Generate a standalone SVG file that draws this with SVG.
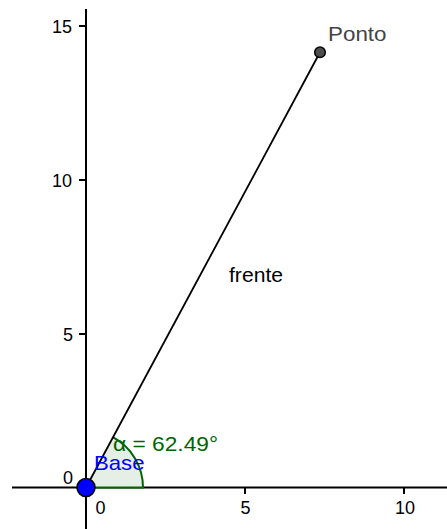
<svg xmlns="http://www.w3.org/2000/svg" width="447" height="529" viewBox="0 0 447 529">
<style>
.axis{stroke:#000;stroke-width:2;fill:none}
.tick{stroke:#000;stroke-width:2}
.tl{font-family:"Liberation Sans",Arial,sans-serif;font-size:18px;fill:#000}
.lbl{font-family:"Liberation Sans",Arial,sans-serif;font-size:21px}
</style>
<rect width="447" height="529" fill="#fff"/>
<g id="axes">
<line class="axis" x1="12" y1="487.5" x2="447" y2="487.5"/>
<line class="axis" x1="86" y1="9" x2="86" y2="529"/>
<line class="tick" x1="245" y1="487.5" x2="245" y2="494"/>
<line class="tick" x1="404" y1="487.5" x2="404" y2="494"/>
<line class="tick" x1="79" y1="26" x2="86" y2="26"/>
<line class="tick" x1="79" y1="180" x2="86" y2="180"/>
<line class="tick" x1="79" y1="334" x2="86" y2="334"/>
<text class="tl" x="72" y="32.5" text-anchor="end">15</text>
<text class="tl" x="72" y="186.5" text-anchor="end">10</text>
<text class="tl" x="73" y="340.5" text-anchor="end">5</text>
<text class="tl" x="73" y="484" text-anchor="end">0</text>
<text class="tl" x="95.5" y="513.5">0</text>
<text class="tl" x="245.5" y="513.5" text-anchor="middle">5</text>
<text class="tl" x="405" y="513.5" text-anchor="middle">10</text>
</g>
<g id="angle">
<path d="M86,487.5 L143,487.5 A57,57 0 0 0 112.8,437.2 Z" fill="#e6efe6" stroke="none"/>
<path d="M86,487.5 L143,487.5 A57,57 0 0 0 112.8,437.2" fill="none" stroke="#006400" stroke-width="2"/>
<text class="lbl" x="113" y="451" fill="#006400" textLength="105" lengthAdjust="spacingAndGlyphs">α = 62.49°</text>
</g>
<g id="connectors">
<line id="frente" x1="86" y1="487.5" x2="320" y2="52.3" stroke="#000" stroke-width="1.8"/>
<text class="lbl" x="229" y="282" fill="#000" textLength="54" lengthAdjust="spacingAndGlyphs">frente</text>
</g>
<g id="Ponto">
<circle cx="320" cy="52.3" r="5.3" fill="#4d4d4d" stroke="#000" stroke-width="1.5"/>
<text class="lbl" x="328" y="41" fill="#444" font-size="22" textLength="58.5" lengthAdjust="spacingAndGlyphs">Ponto</text>
</g>
<g id="Base">
<circle cx="86" cy="487.5" r="9" fill="#0000ff" stroke="#000" stroke-width="1.5"/>
<text class="lbl" x="94" y="469.5" fill="#0000ff" textLength="50.5" lengthAdjust="spacingAndGlyphs">Base</text>
</g>
</svg>
